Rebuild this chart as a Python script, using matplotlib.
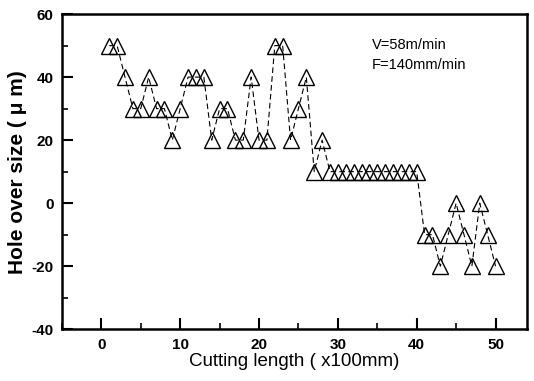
import matplotlib.pyplot as plt
from matplotlib.ticker import MultipleLocator

# cutting length (x100mm) and hole oversize (um)
cut_len = list(range(1, 51))
oversize = [50, 50, 40, 30, 30, 40, 30, 30, 20, 30,
            40, 40, 40, 20, 30, 30, 20, 20, 40, 20,
            20, 50, 50, 20, 30, 40, 10, 20, 10, 10,
            10, 10, 10, 10, 10, 10, 10, 10, 10, 10,
            -10, -10, -20, -10, 0, -10, -20, 0, -10, -20]

plt.rcParams['font.family'] = ['Liberation Sans', 'DejaVu Sans']
plt.rcParams['axes.unicode_minus'] = False

fig = plt.figure(figsize=(5.34, 3.81), dpi=100)
ax = fig.add_axes([0.116, 0.136, 0.871, 0.827])

ax.plot(cut_len, oversize, color='black', linestyle=(0, (5, 3)), linewidth=0.8,
        marker='^', markersize=12, markerfacecolor='none', markeredgecolor='black',
        markeredgewidth=1.0)

ax.set_xlim(-5, 54)
ax.set_ylim(-40, 60)
ax.xaxis.set_major_locator(MultipleLocator(10))
ax.xaxis.set_minor_locator(MultipleLocator(5))
ax.yaxis.set_major_locator(MultipleLocator(20))
ax.yaxis.set_minor_locator(MultipleLocator(10))
ax.tick_params(which='major', direction='in', length=8, width=1.5, labelsize=11, pad=6)
ax.tick_params(which='minor', direction='in', length=4, width=1.2)
for lbl in ax.get_xticklabels() + ax.get_yticklabels():
    lbl.set_fontweight('bold')
for sp in ax.spines.values():
    sp.set_linewidth(1.8)

ax.set_xlabel('Cutting length ( x100mm)', fontsize=13.5, labelpad=1)
ax.set_ylabel('Hole over size ( μ m)', fontsize=15, fontweight='bold', labelpad=3)

ax.text(0.667, 0.903, 'V=58m/min', transform=ax.transAxes, fontsize=10.5, va='center')
ax.text(0.667, 0.838, 'F=140mm/min', transform=ax.transAxes, fontsize=10.5, va='center')

fig.savefig('out.png', dpi=100)
